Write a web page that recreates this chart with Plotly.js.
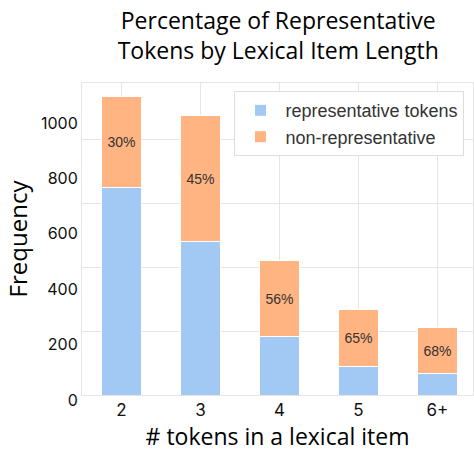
<!DOCTYPE html>
<html>
<head>
<meta charset="utf-8">
<script src="https://cdn.plot.ly/plotly-3.0.1.min.js"></script>
<style>html,body{margin:0;padding:0;background:#fff;}#chart{width:474px;height:452px;}</style>
</head>
<body>
<div id="chart"></div>
<script>
const categories = ["2", "3", "4", "5", "6+"];
const representative = [750, 553, 210, 103, 76];
const nonRepresentative = [328, 454, 274, 204, 169];
const pctLabels = ["30%", "45%", "56%", "65%", "68%"];
const yTickVals = [0, 200, 400, 600, 800, 1000];
const gridVals = [0, 1, 2, 3, 4];

const handFont = "Open Sans, sans-serif";
const traces = [
  {
    type: "bar", x: categories, y: representative, name: "representative tokens",
    marker: {color: "#a1c9f4", line: {color: "#ffffff", width: 1}},
    width: 0.5, hoverinfo: "none"
  },
  {
    type: "bar", x: categories, y: nonRepresentative, name: "non-representative",
    marker: {color: "#ffb482", line: {color: "#ffffff", width: 1}},
    width: 0.5, text: pctLabels, textposition: "inside", insidetextanchor: "middle",
    textfont: {family: "Liberation Sans, Arial, sans-serif", size: 14, color: "#333333"},
    hoverinfo: "none"
  },
  {
    type: "scatter", x: categories, y: [null, null, null, null, null], yaxis: "y2",
    showlegend: false, hoverinfo: "none"
  }
];

const layout = {
  width: 474, height: 452,
  margin: {l: 82, r: 1, t: 83, b: 57},
  barmode: "stack",
  paper_bgcolor: "#ffffff", plot_bgcolor: "#ffffff",
  title: {
    text: "Percentage of Representative<br>Tokens by Lexical Item Length",
    font: {family: handFont, size: 23, color: "#000000"},
    x: 0.587, xanchor: "center", yref: "container", y: 0.936, yanchor: "middle"
  },
  xaxis: {
    type: "category", range: [-0.5, 4.45],
    showgrid: true, gridcolor: "#e5e5e5", gridwidth: 1,
    showline: true, linecolor: "#e5e5e5", mirror: true,
    ticks: "", tickfont: {family: "Inter, sans-serif", size: 17, color: "#111111"},
    title: {text: "# tokens in a lexical item", font: {family: handFont, size: 23, color: "#000000"}, standoff: 18}
  },
  yaxis: {
    range: [0, 1126], tickvals: yTickVals, showgrid: false, zeroline: false,
    showline: true, linecolor: "#e5e5e5", mirror: true,
    ticks: "", ticklabelshift: 5,
    tickfont: {family: "Inter, sans-serif", size: 16, color: "#111111"},
    title: {text: "Frequency", font: {family: handFont, size: 24, color: "#000000"}, standoff: 6}
  },
  yaxis2: {
    overlaying: "y", range: [0, 4.875], tickvals: gridVals, showticklabels: false,
    showgrid: true, gridcolor: "#e5e5e5", zeroline: false, ticks: ""
  },
  legend: {
    x: 0.39, y: 0.974, xanchor: "left", yanchor: "top",
    bgcolor: "#ffffff", bordercolor: "#dddddd", borderwidth: 1,
    font: {family: "Liberation Sans, Arial, sans-serif", size: 18, color: "#333333"},
    traceorder: "normal", itemwidth: 40, tracegroupgap: 0
  },
  showlegend: true
};

Plotly.newPlot("chart", traces, layout, {displayModeBar: false, staticPlot: true});
</script>
</body>
</html>
